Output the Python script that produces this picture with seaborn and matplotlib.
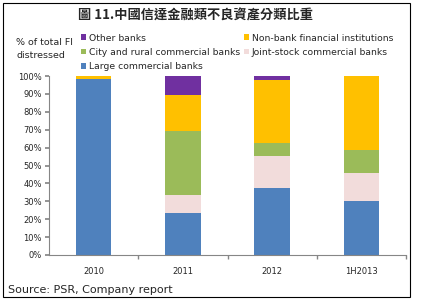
import numpy as np
import pandas as pd
import matplotlib
matplotlib.use("Agg")
import matplotlib.pyplot as plt
from matplotlib.patches import Patch, Rectangle
import seaborn as sns

categories = ["2010", "2011", "2012", "1H2013"]
large = [98.2, 23.5, 37.4, 30.2]
joint = [0.0, 10.0, 17.9, 15.6]
city = [0.0, 35.8, 7.3, 12.9]
nonbank = [1.8, 20.3, 35.2, 41.3]
other = [0.0, 10.4, 2.2, 0.0]
yticks = [0, 10, 20, 30, 40, 50, 60, 70, 80, 90, 100]

series = [
    ("Large commercial banks", large, "#4F81BD"),
    ("Joint-stock commercial banks", joint, "#F2DCDB"),
    ("City and rural commercial banks", city, "#9BBB59"),
    ("Non-bank financial institutions", nonbank, "#FFC000"),
    ("Other banks", other, "#7030A0"),
]

sns.set_theme(style="white")
plt.rcParams["font.family"] = ["DejaVu Sans"]

fig = plt.figure(figsize=(4.44, 3.0), dpi=100)
ax = fig.add_axes([49 / 444, 1 - 255 / 300, (406 - 49) / 444, (255 - 76) / 300])

cum = np.zeros(len(categories))
cums = []
for name, vals, col in series:
    cum = cum + np.array(vals)
    cums.append((name, cum.copy(), col))

for name, c, col in reversed(cums):
    df = pd.DataFrame({"cat": categories, "val": c})
    sns.barplot(data=df, x="cat", y="val", color=col, width=0.4, ax=ax,
                saturation=1, linewidth=0, order=categories)

ax.set_ylim(0, 100)
ax.set_xlim(-0.5, 3.5)
ax.set_yticks(yticks)
ax.set_yticklabels([f"{v}%" for v in yticks], fontsize=6)
ax.set_xticks(range(4))
ax.set_xticklabels(categories, fontsize=6)
ax.set_xlabel("")
ax.set_ylabel("")
for s in ["top", "right"]:
    ax.spines[s].set_visible(False)
for s in ["left", "bottom"]:
    ax.spines[s].set_color("#868686")
    ax.spines[s].set_linewidth(0.8)
ax.tick_params(axis="y", which="both", left=True, length=3, color="#868686", pad=2)
ax.tick_params(axis="x", which="major", bottom=False, pad=3)
ax.set_xticks([0.5, 1.5, 2.5, 3.5], minor=True)
ax.tick_params(axis="x", which="minor", bottom=True, length=3, color="#868686")

# legend
lookup = {n: c for n, _, c in series}
order = ["Other banks", "City and rural commercial banks", "Large commercial banks",
         "Non-bank financial institutions", "Joint-stock commercial banks"]
handles = [Patch(facecolor=lookup[n], edgecolor="none", label=n) for n in order]
fig.legend(handles=handles, loc="upper left", bbox_to_anchor=(76 / 444, 1 - 29 / 300),
           ncol=2, frameon=False, fontsize=6.7, handlelength=0.6, handleheight=0.6,
           handletextpad=0.3, columnspacing=0.35, labelspacing=0.55, borderpad=0)

fig.text(16 / 444, 1 - 49 / 300, "% of total FI\ndistressed", fontsize=6.8,
         ha="left", va="center", linespacing=1.7)

fig.text(195 / 444, 1 - 16 / 300, "圖 11.中國信達金融類不良資產分類比重",
         fontsize=9.5, fontweight="bold", ha="center", va="center",
         family=["Noto Sans CJK TC", "DejaVu Sans"])

fig.text(8 / 444, 1 - 290 / 300, "Source: PSR, Company report", fontsize=8,
         ha="left", va="center")

fig.patches.append(Rectangle((3 / 444, 3 / 300), 407 / 444, 294 / 300,
                             transform=fig.transFigure, fill=False,
                             edgecolor="black", linewidth=0.8))

fig.savefig("out.png", dpi=100)
